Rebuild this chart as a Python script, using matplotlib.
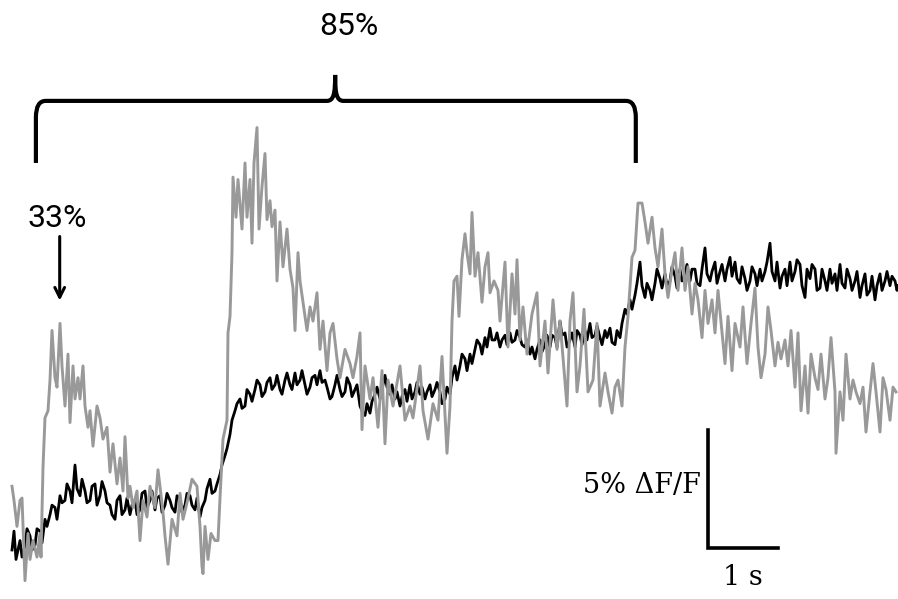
import numpy as np
import matplotlib
matplotlib.use("Agg")
import matplotlib.pyplot as plt
from matplotlib.path import Path
from matplotlib.patches import PathPatch

# imaging rate: frames per second
FPS = 70.0

# ---------------------------
# black trace (dF/F in %)
# ---------------------------
black_frames = [2, 4, 6] + list(range(10, 886, 5)) + [888]
black_dff = [
    0.0, 0.8, -0.4,
    0.4, 0.2, 0.6, 0.2, 0.8, 1.3, 1.5, 1.8, 2.3, 2.1, 2.5, 3.6, 2.3, 2.5, 2.1, 2.8, 2.3,
    2.5, 1.9, 1.3, 2.3, 1.7, 1.5, 2.1, 1.7, 2.5, 2.1,
    1.7, 2.3, 1.9, 2.1, 1.6, 2.2, 1.9, 2.3, 1.7, 1.4,
    2.1, 3.0, 2.5, 3.2, 4.0, 4.9, 5.9, 6.4, 6.1, 6.6,
    6.8, 7.0, 6.7, 7.3, 7.0, 6.8, 7.2, 7.0, 7.5, 7.2,
    7.0, 6.9, 7.4, 7.6, 7.2, 6.4, 7.0, 6.8, 6.7, 7.0,
    6.8, 6.1, 5.7, 5.8, 6.6, 6.4, 7.4, 6.6, 6.4, 6.1,
    6.8, 7.0, 6.7, 6.6, 6.4, 7.0, 6.8, 6.7, 6.4, 6.6,
    7.8, 7.8, 8.1, 8.3, 8.5, 8.7, 9.0, 9.4, 8.9, 8.6,
    9.1, 9.2, 8.9, 9.0, 8.6, 8.3, 8.1, 8.9, 8.7, 8.6,
    9.0, 9.7, 9.2, 8.9, 8.6, 9.1, 9.3, 9.6, 9.1, 9.0,
    9.3, 9.4, 8.7, 9.0, 10.2, 10.6, 10.8, 12.2, 10.7, 11.0,
    11.3, 11.5, 11.7, 11.4, 11.6, 11.9, 11.7, 11.4, 11.9, 11.2,
    12.8, 11.4, 12.2, 11.8, 11.4, 12.4, 12.2, 11.3, 11.5, 11.4,
    11.7, 11.9, 11.8, 13.0, 11.4, 11.1, 11.9, 12.2, 11.8, 12.1,
    10.7, 11.5, 11.9, 11.1, 11.4, 11.9, 11.7, 12.1, 11.1, 11.5,
    11.4, 10.7, 11.7, 11.0, 10.6, 11.7, 11.4, 11.2, 11.4,
    11.2,
]

# in-between black samples (frames 12, 17, ... 887)
black_mid_frames = list(range(12, 888, 5))
black_mid_dff = [
    -0.3, 0.9, 0.0, 0.9, 0.3, 1.0, 1.9, 1.3, 2.0, 2.8, 2.0, 2.6, 3.0,
    2.0, 2.7, 1.9, 2.9, 2.0, 1.5, 2.1, 1.5, 2.2, 1.9, 1.5, 2.4, 1.8,
    2.5, 2.2, 1.6, 2.4, 1.8, 2.3, 1.6, 2.4, 1.9, 2.2,
    1.8, 2.6, 2.4, 2.8, 3.6, 4.3, 5.5, 6.2, 6.0, 6.8,
    6.3, 7.2, 6.5, 7.1, 6.8, 7.4, 6.6, 7.5, 6.8, 7.0,
    7.6, 6.6, 7.3, 7.0, 7.1, 6.9, 6.5, 7.4, 6.5, 7.3,
    6.5, 7.0, 5.9, 6.2, 6.3, 6.9, 6.8, 6.9, 7.0, 6.7,
    6.5, 6.3, 6.4, 7.1, 6.9, 6.7, 6.5, 7.1, 6.2, 6.9,
    7.3, 7.2, 8.3, 7.6, 7.9, 8.9, 8.3, 8.6, 8.9, 9.2,
    8.9, 8.7, 8.8, 9.3, 8.7, 8.9, 8.6, 8.5, 8.4, 9.1,
    9.1, 8.6, 9.1, 8.6, 9.2, 9.3, 8.7, 8.9, 9.0, 9.5,
    8.7, 9.0, 8.8, 9.3, 9.6, 10.0, 10.2, 11.3, 11.2, 11.3,
    10.6, 11.9, 11.1, 11.2, 12.0, 11.1, 11.4, 12.1, 11.9, 11.3,
    11.9, 11.7, 11.8, 11.3, 12.1, 11.9, 11.6, 11.5, 12.0, 11.0,
    12.0, 11.2, 11.4, 12.2, 11.8, 12.2, 11.6, 11.2, 11.4, 12.3,
    11.2, 11.9, 12.1, 11.0, 11.9, 11.0, 11.3, 11.0, 11.3, 11.9,
    11.0, 11.8, 11.2, 10.8, 11.6, 11.2, 11.0, 11.8, 11.6, 11.0,
]

# ---------------------------
# grey trace (dF/F in %)
# ---------------------------
grey_frames = [
    2, 4, 7, 10, 12, 15, 18, 20, 23, 27, 30, 31,
    33, 35, 38, 40, 42, 45, 47, 50, 52, 55, 58, 60,
    63, 65, 68, 70, 73, 75, 78, 80, 83, 87, 90, 93,
    97, 100, 103, 107, 110, 113, 115, 118, 120, 123, 127, 130,
    133, 137, 140, 145, 148, 153, 155, 158, 162, 167, 170, 173,
    177, 182, 187, 190, 192, 193, 195, 198, 201, 205, 208, 210,
    213, 217, 218, 220, 222, 223, 226, 228, 232, 235, 237, 240,
    242, 244, 247, 249, 252, 255, 257, 260, 262, 265, 267, 270,
    273, 277, 280, 283, 285, 288, 290, 293, 297, 300, 303, 307,
    310, 313, 317, 320, 323, 327, 330, 335, 340, 343, 347, 350,
    352, 355, 360, 363, 368, 372, 375, 378, 383, 390, 395, 400,
    403, 410, 413, 418, 423, 428, 432, 437, 440, 442, 444, 447,
    449, 452, 455, 457, 460, 462, 465, 468, 472, 475, 478, 480,
    484, 488, 490, 495, 498, 502, 505, 507, 510, 513, 517, 522,
    527, 530, 535, 538, 543, 547, 550, 557, 560, 563, 567, 570,
    574, 578, 583, 587, 590, 595, 598, 602, 605, 608, 612, 615,
    618, 622, 625, 628, 632, 635, 638, 642, 645, 648, 652, 655,
    658, 662, 665, 668, 672, 675, 678, 682, 685, 688, 692, 695,
    698, 702, 705, 708, 712, 715, 718, 722, 725, 730, 733, 737,
    741, 745, 748, 751, 755, 758, 761, 765, 768, 771, 775, 778,
    781, 785, 788, 791, 795, 798, 801, 805, 808, 811, 815, 818,
    821, 825, 826, 830, 833, 836, 840, 843, 846, 850, 853, 856,
    860, 863, 866, 870, 873, 876, 880, 883, 886,
]
grey_dff = [
    2.7, 2.1, 1.0, 2.1, 2.2, -1.3, 0.7, -0.4, 0.4, -0.3, 0.7, -0.3,
    3.5, 5.6, 5.9, 7.2, 9.3, 7.3, 6.9, 9.6, 7.8, 6.1, 8.3, 5.4,
    7.8, 6.4, 7.3, 6.4, 7.8, 6.1, 5.2, 5.9, 4.4, 6.1, 5.6, 4.7,
    5.2, 3.3, 4.5, 2.8, 3.9, 2.5, 4.8, 2.2, 2.7, 1.8, 2.5, 0.4,
    2.1, 1.4, 2.7, 1.8, 3.4, 1.6, 0.6, -0.6, 1.3, 0.6, 2.4, 1.3,
    2.0, 3.0, 2.7, 1.0, -0.7, -1.0, 1.0, -0.4, 0.7, 0.4, 0.4, 2.2,
    4.7, 5.5, 9.2, 9.9, 12.6, 15.8, 14.1, 15.7, 13.6, 16.4, 14.1, 15.7,
    13.0, 16.4, 17.9, 13.6, 15.4, 16.8, 14.0, 14.8, 13.7, 14.4, 11.4, 13.9,
    12.0, 13.6, 11.9, 11.1, 9.3, 12.6, 11.4, 10.5, 9.3, 10.3, 9.7, 10.9,
    8.5, 9.7, 7.6, 9.2, 9.6, 8.1, 7.3, 8.5, 7.9, 7.3, 8.2, 9.2,
    5.1, 7.8, 6.4, 7.3, 5.2, 7.6, 4.5, 7.2, 6.1, 7.8, 5.5, 6.1,
    5.6, 7.8, 5.9, 4.7, 6.2, 5.5, 8.2, 4.1, 6.1, 9.7, 11.4, 11.6,
    9.9, 12.3, 13.4, 12.6, 11.7, 14.3, 11.6, 12.6, 10.5, 12.0, 12.6, 10.9,
    11.4, 11.0, 9.7, 12.2, 8.6, 11.7, 10.0, 12.3, 8.9, 10.3, 8.3, 10.0,
    10.9, 7.8, 9.7, 7.5, 10.6, 8.5, 9.7, 6.1, 9.7, 10.9, 6.7, 7.8,
    10.2, 6.7, 7.2, 9.6, 6.1, 7.5, 6.7, 5.8, 6.9, 7.2, 6.1, 8.6,
    9.9, 12.4, 12.7, 14.7, 14.7, 13.9, 13.0, 14.1, 12.8, 12.0, 13.6, 11.7,
    10.7, 11.9, 12.6, 11.0, 12.8, 11.0, 12.0, 10.0, 11.3, 10.6, 9.0, 11.0,
    9.6, 10.6, 9.2, 11.0, 9.2, 7.9, 9.9, 7.6, 9.6, 8.6, 10.3, 7.9,
    9.6, 11.1, 8.6, 7.3, 8.3, 10.3, 9.3, 7.8, 8.8, 8.1, 8.9, 7.8,
    9.3, 6.9, 9.2, 5.9, 7.8, 5.8, 8.3, 7.3, 6.8, 8.3, 6.4, 7.3,
    9.0, 6.7, 4.1, 6.7, 5.5, 8.3, 6.4, 7.2, 6.7, 6.2, 6.9, 5.0,
    6.7, 7.9, 6.7, 5.0, 7.3, 6.8, 5.5, 6.9, 6.7,
]

# stimulation marks (seconds)
stim_33 = 0.71
stim_85_start, stim_85_end = 0.37, 8.94

# merge the two black sample sets in time order
bf = np.array(black_frames + black_mid_frames, dtype=float)
bv = np.array(black_dff + black_mid_dff)
order = np.argsort(bf, kind="stable")
t_black = bf[order] / FPS
v_black = bv[order]
t_grey = np.array(grey_frames) / FPS

fig = plt.figure(figsize=(8.98, 5.99), dpi=100)
ax = fig.add_axes([0, 0, 1, 1])

ax.plot(t_black, v_black, color="black", lw=2.0, zorder=2)
ax.plot(t_grey, grey_dff, color="#999999", lw=2.1, zorder=3)

ax.set_xlim(-10 / FPS, 888 / FPS)
ax.set_ylim(-49 / 23.6, 550 / 23.6)
ax.axis("off")

# ---------------------------
# scale bar
# ---------------------------
sb_t, sb_y = 9.97, 0.09
ax.plot([sb_t, sb_t, sb_t + 1.0], [sb_y + 5.0, sb_y, sb_y],
        color="black", lw=2.6, solid_joinstyle="miter", zorder=4)
ax.text(sb_t - 0.1, sb_y + 2.65, "5% \u0394F/F", ha="right", va="center",
        family="DejaVu Serif", fontsize=19.5)
ax.text(sb_t + 0.5, sb_y - 0.7, "1 s", ha="center", va="top",
        family="DejaVu Serif", fontsize=19.5)

# ---------------------------
# 33% arrow
# ---------------------------
ax.annotate("", xy=(stim_33, 10.45), xytext=(stim_33, 13.4),
            arrowprops=dict(arrowstyle="->,head_length=0.7,head_width=0.35",
                            color="black", lw=2.2))
ax.text(stim_33 - 0.04, 14.05, "33%", ha="center", va="center",
        family="Roboto", fontsize=23)

# ---------------------------
# 85% brace
# ---------------------------
L, R = stim_85_start, stim_85_end
P = (L + R) / 2 - 0.01
yb, yh, yp = 16.4, 19.03, 20.13
verts = [
    (L, yb), (L, yh - 0.7),
    (L, yh), (L + 0.14, yh),
    (P - 0.12, yh),
    (P - 0.02, yh), (P, yh + 0.3), (P, yp),
    (P, yh + 0.3), (P + 0.02, yh), (P + 0.12, yh),
    (R - 0.14, yh),
    (R, yh), (R, yh - 0.7),
    (R, yb),
]
codes = [
    Path.MOVETO, Path.LINETO,
    Path.CURVE3, Path.CURVE3,
    Path.LINETO,
    Path.CURVE4, Path.CURVE4, Path.CURVE4,
    Path.CURVE4, Path.CURVE4, Path.CURVE4,
    Path.LINETO,
    Path.CURVE3, Path.CURVE3,
    Path.LINETO,
]
ax.add_patch(PathPatch(Path(verts, codes), facecolor="none",
                       edgecolor="black", lw=3.0, capstyle="butt"))
ax.text(P + 0.2, 22.2, "85%", ha="center", va="center",
        family="Roboto", fontsize=23)

fig.savefig("out.png", dpi=100)
